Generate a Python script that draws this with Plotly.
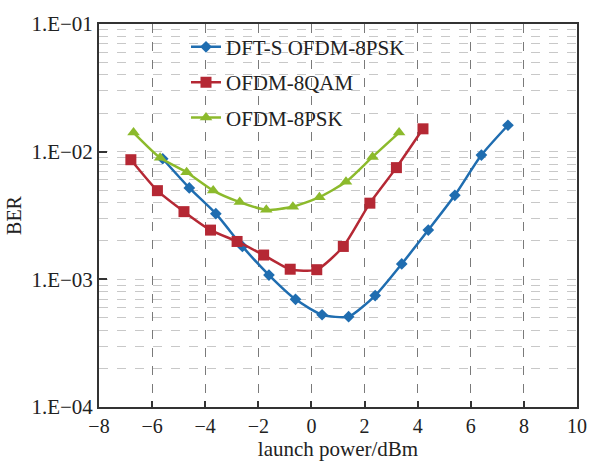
import plotly.graph_objects as go

# Data
blue_x = [-5.6, -4.6, -3.6, -2.6, -1.6, -0.6, 0.4, 1.4, 2.4, 3.4, 4.4, 5.4, 6.4, 7.4]
blue_y = [8.8e-3, 5.2e-3, 3.27e-3, 1.81e-3, 1.08e-3, 6.97e-4, 5.28e-4, 5.1e-4,
          7.46e-4, 1.32e-3, 2.43e-3, 4.55e-3, 9.4e-3, 1.61e-2]

red_x = [-6.8, -5.8, -4.8, -3.8, -2.8, -1.8, -0.8, 0.2, 1.2, 2.2, 3.2, 4.2]
red_y = [8.65e-3, 4.95e-3, 3.39e-3, 2.43e-3, 1.98e-3, 1.55e-3, 1.2e-3, 1.19e-3,
         1.81e-3, 3.95e-3, 7.5e-3, 1.51e-2]

green_x = [-6.7, -5.7, -4.7, -3.7, -2.7, -1.7, -0.7, 0.3, 1.3, 2.3, 3.3]
green_y = [1.41e-2, 8.95e-3, 6.9e-3, 4.96e-3, 4.03e-3, 3.5e-3, 3.7e-3, 4.4e-3,
           5.8e-3, 9.1e-3, 1.41e-2]

names = ["DFT-S OFDM-8PSK", "OFDM-8QAM", "OFDM-8PSK"]
colors = ["#1f6db0", "#b52834", "#8cba2c"]

y_tickvals = [1e-4, 1e-3, 1e-2, 1e-1]
y_ticktext = ["1.E\u221204", "1.E\u221203", "1.E\u221202", "1.E\u221201"]
x_tickvals = [-8, -6, -4, -2, 0, 2, 4, 6, 8, 10]
x_ticktext = ["\u22128", "\u22126", "\u22124", "\u22122", "0", "2", "4", "6", "8", "10"]

FONT = "Liberation Serif, Times New Roman, serif"

fig = go.Figure()
series = [(blue_x, blue_y, "diamond", 9), (red_x, red_y, "square", 11), (green_x, green_y, "triangle-up", 11)]
for i, (xs, ys, sym, sz) in enumerate(series):
    fig.add_trace(go.Scatter(
        x=xs, y=ys, name=names[i], mode="lines+markers",
        legendgroup=f"g{i}",
        line=dict(color=colors[i], width=2.5, shape="spline", smoothing=0.6),
        marker=dict(symbol=sym, size=sz, color=colors[i]),
    ))

# white backdrop of the legend (above grid, below traces)
fig.add_shape(type="rect", xref="paper", yref="paper",
              x0=0.178, x1=0.656, y0=0.704, y1=0.96,
              fillcolor="white", line=dict(width=0), layer="between")

fig.update_layout(
    width=599, height=464,
    margin=dict(l=99, r=12, t=14, b=52),
    paper_bgcolor="white", plot_bgcolor="white",
    font=dict(family=FONT, size=20, color="#222"),
    showlegend=True,
    legend=dict(
        x=0.182, y=0.993, xanchor="left", yanchor="top",
        bgcolor="rgba(0,0,0,0)", borderwidth=0,
        font=dict(family=FONT, size=21, color="#222"),
        traceorder="grouped", tracegroupgap=5,
    ),
    xaxis=dict(
        range=[-8, 10], tickvals=x_tickvals, ticktext=x_ticktext,
        ticks="inside", ticklen=6, tickwidth=1.5, tickcolor="#333",
        showline=True, linecolor="#333", linewidth=2, mirror=True,
        showgrid=True, gridcolor="#7a7a7a", griddash="dash", gridwidth=1,
        zeroline=False,
        title=dict(text="launch power/dBm", font=dict(family=FONT, size=21, color="#222"), standoff=0),
        tickfont=dict(family=FONT, size=20, color="#222"),
    ),
    yaxis=dict(
        type="log", range=[-4, -1], tickvals=y_tickvals, ticktext=y_ticktext,
        ticks="inside", ticklen=8, tickwidth=1.5, tickcolor="#333",
        showline=True, linecolor="#333", linewidth=2, mirror=True,
        showgrid=True, gridcolor="#c8c8c8", griddash="dash", gridwidth=1,
        minor=dict(showgrid=True, gridcolor="#c8c8c8", griddash="dash", gridwidth=1,
                   ticks="", dtick="D1"),
        zeroline=False,
        title=dict(text="BER", font=dict(family=FONT, size=20, color="#222"), standoff=4),
        tickfont=dict(family=FONT, size=21, color="#222"),
    ),
)

fig.write_html("out.html")
